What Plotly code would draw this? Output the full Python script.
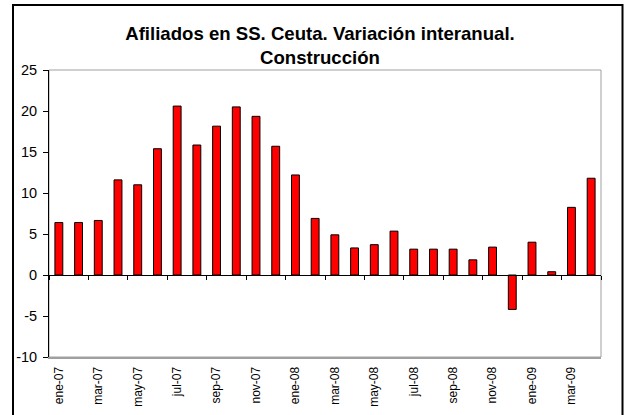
import plotly.graph_objects as go

months = ["ene-07", "feb-07", "mar-07", "abr-07", "may-07", "jun-07", "jul-07", "ago-07",
          "sep-07", "oct-07", "nov-07", "dic-07", "ene-08", "feb-08", "mar-08", "abr-08",
          "may-08", "jun-08", "jul-08", "ago-08", "sep-08", "oct-08", "nov-08", "dic-08",
          "ene-09", "feb-09", "mar-09", "abr-09"]
variacion = [6.4, 6.4, 6.65, 11.6, 11.0, 15.4, 20.6, 15.85, 18.15, 20.5, 19.35, 15.7,
             12.2, 6.9, 4.9, 3.3, 3.7, 5.35, 3.15, 3.15, 3.15, 1.85, 3.4, -4.2,
             4.0, 0.4, 8.25, 11.8]
title_text = "Afiliados en SS. Ceuta. Variación interanual.<br>Construcción"
y_ticks = [-10, -5, 0, 5, 10, 15, 20, 25]
y_tick_labels = ["-10", "-5", "0", "5", "10", "15", "20", "25"]

FONT = "Arial, Liberation Sans, sans-serif"
n = len(months)
y_min, y_max = y_ticks[0], y_ticks[-1]

fig = go.Figure()
fig.add_trace(go.Bar(
    x=months, y=variacion, width=0.4,
    marker=dict(color="#FF0000", line=dict(color="#000000", width=1)),
    showlegend=False, hoverinfo="x+y",
))
# helper trace so the zero-line axis (x2) is rendered
fig.add_trace(go.Scatter(
    x=months, y=variacion, xaxis="x2", mode="markers",
    marker=dict(opacity=0), showlegend=False, hoverinfo="skip",
))

L, R, T, B = 49, 24, 70, 58
W, H = 625, 415
pw, ph = W - L - R, H - T - B
rng = [-0.5, n - 0.5]
fig.update_layout(
    width=W, height=H,
    margin=dict(l=L, r=R, t=T, b=B, autoexpand=False),
    paper_bgcolor="white", plot_bgcolor="white",
    font=dict(family=FONT, size=12, color="black"),
    title=dict(text=title_text, x=0.512, xref="container", xanchor="center",
               y=1 - 39.5 / H, yref="container", yanchor="middle",
               font=dict(family=FONT, size=18.6, color="black", weight="bold")),
    xaxis=dict(type="category", range=rng, categoryorder="array", categoryarray=months,
               tickmode="array", tickvals=months[::2], ticktext=months[::2],
               tickangle=-90, ticks="", showline=True, linecolor="#A0A0A0", linewidth=2,
               showgrid=False, zeroline=False, tickfont=dict(size=12),
               ticklabelstandoff=3, automargin=False),
    xaxis2=dict(type="category", overlaying="x", anchor="free",
                position=(0 - y_min) / (y_max - y_min), range=rng,
                categoryorder="array", categoryarray=months,
                tickson="boundaries", dtick=2, tick0=0,
                ticks="outside", ticklen=4, tickcolor="black", tickwidth=1,
                showticklabels=False, showline=True, linecolor="black", linewidth=1,
                showgrid=False, zeroline=False, automargin=False),
    yaxis=dict(range=[y_min, y_max], tickmode="array", tickvals=y_ticks,
               ticktext=y_tick_labels, ticks="outside",
               ticklen=5, tickcolor="black", showline=True, linecolor="black", linewidth=1,
               showgrid=False, zeroline=False, tickfont=dict(size=14.5),
               ticklabelstandoff=3, automargin=False),
    shapes=[
        dict(type="rect", xref="x domain", yref="y domain", x0=0, x1=1, y0=0, y1=1,
             line=dict(color="#A0A0A0", width=1), layer="below"),
        dict(type="rect", xref="paper", yref="paper",
             x0=(13 - L) / pw, x1=(622.5 - L) / pw,
             y0=(H - B - 418) / ph, y1=(H - B - 5) / ph,
             line=dict(color="black", width=2), layer="above"),
    ],
)

fig.write_html(
    "out.html",
    config={"displayModeBar": False},
    post_script="document.body.style.margin='0';document.body.style.overflow='hidden';",
)
